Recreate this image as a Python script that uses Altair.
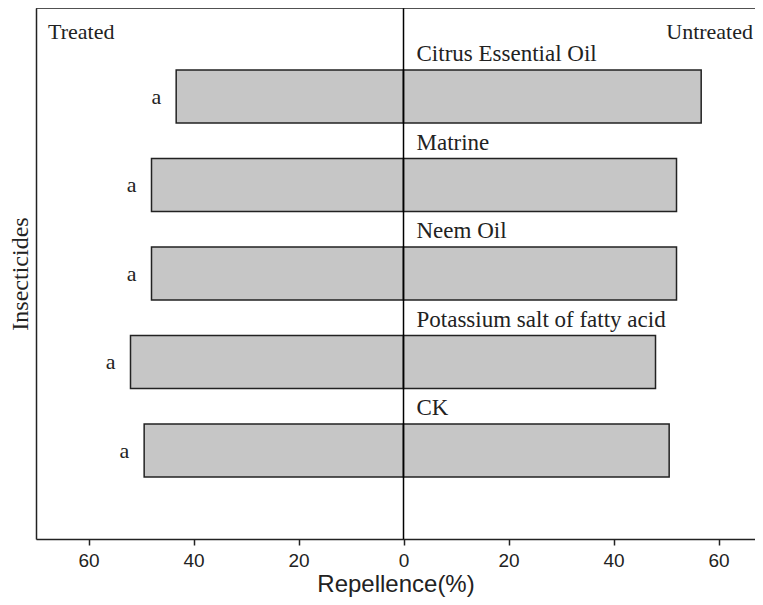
import altair as alt
import pandas as pd

categories = ["Citrus Essential Oil", "Matrine", "Neem Oil", "Potassium salt of fatty acid", "CK"]
positions = [5, 4, 3, 2, 1]
treated = [43.3, 48.0, 48.0, 52.0, 49.4]
untreated = [56.7, 52.0, 52.0, 48.0, 50.6]
letters = ["a", "a", "a", "a", "a"]
x_ticks = [-60, -40, -20, 0, 20, 40, 60]

XDOM = [-70, 66.95]
YDOM = [0, 6]
SERIF = "Liberation Serif"
SANS = "Liberation Sans"
INK = "#222222"

df = pd.DataFrame({
    "cat": categories,
    "pos": positions,
    "treated": treated,
    "untreated": untreated,
    "letter": letters,
})
df["neg"] = -df["treated"]
df["lo"] = df["pos"] - 0.3
df["hi"] = df["pos"] + 0.3
df["labpos"] = df["pos"] + 0.48
df["zero"] = 0.0

xs = alt.Scale(domain=XDOM, nice=False, zero=False)
ys = alt.Scale(domain=YDOM, nice=False, zero=False)

base = alt.Chart(df)

left_bars = base.mark_bar(color="#c6c6c6", stroke=INK, strokeWidth=1.5).encode(
    x=alt.X("neg:Q", scale=xs,
            axis=alt.Axis(values=x_ticks, labelExpr="format(abs(datum.value), 'd')",
                          title="Repellence(%)", grid=False, tickSize=6,
                          labelFont=SANS, labelFontSize=19, labelColor=INK, labelPadding=6,
                          titleFont=SANS, titleFontSize=24, titleFontWeight="normal",
                          titleColor=INK, titleBaseline="alphabetic", titleY=52,
                          domainColor=INK, domainWidth=1.5, tickColor=INK, tickWidth=1.5)),
    x2="zero:Q",
    y=alt.Y("lo:Q", scale=ys,
            axis=alt.Axis(title="Insecticides", ticks=False, labels=False, grid=False,
                          domainColor=INK, domainWidth=1.5,
                          titleFont=SERIF, titleFontSize=24, titleFontWeight="normal",
                          titleColor=INK, titlePadding=4)),
    y2="hi:Q",
)

right_bars = base.mark_bar(color="#c6c6c6", stroke=INK, strokeWidth=1.5).encode(
    x=alt.X("zero:Q", scale=xs),
    x2="untreated:Q",
    y=alt.Y("lo:Q", scale=ys),
    y2="hi:Q",
)

cat_text = base.mark_text(align="left", baseline="middle", dx=13, font=SERIF,
                          fontSize=23, color=INK).encode(
    x=alt.X("zero:Q", scale=xs),
    y=alt.Y("labpos:Q", scale=ys),
    text="cat:N",
)

letter_text = base.mark_text(align="right", baseline="middle", dx=-15, font=SERIF,
                             fontSize=22, color=INK).encode(
    x=alt.X("neg:Q", scale=xs),
    y=alt.Y("pos:Q", scale=ys),
    text="letter:N",
)

zero_df = pd.DataFrame({"x": [0.0], "y0": [YDOM[0]], "y1": [YDOM[1]]})
zero_line = alt.Chart(zero_df).mark_rule(color="black", strokeWidth=1.5).encode(
    x=alt.X("x:Q", scale=xs),
    y=alt.Y("y0:Q", scale=ys),
    y2="y1:Q",
)

top_df = pd.DataFrame({"x0": [XDOM[0]], "x1": [XDOM[1]], "y": [YDOM[1]]})
top_line = alt.Chart(top_df).mark_rule(color=INK, strokeWidth=1.5).encode(
    x=alt.X("x0:Q", scale=xs),
    x2="x1:Q",
    y=alt.Y("y:Q", scale=ys),
)

side_df = pd.DataFrame({"x": [XDOM[0], XDOM[1]], "y": [5.73, 5.73],
                        "t": ["Treated", "Untreated"]})
treated_text = alt.Chart(side_df.iloc[[0]]).mark_text(
    align="left", baseline="middle", dx=12, font=SERIF, fontSize=22, color=INK).encode(
    x=alt.X("x:Q", scale=xs), y=alt.Y("y:Q", scale=ys), text="t:N")
untreated_text = alt.Chart(side_df.iloc[[1]]).mark_text(
    align="right", baseline="middle", dx=-2, font=SERIF, fontSize=22, color=INK).encode(
    x=alt.X("x:Q", scale=xs), y=alt.Y("y:Q", scale=ys), text="t:N")

chart = alt.layer(
    left_bars, right_bars, zero_line, top_line, cat_text, letter_text,
    treated_text, untreated_text
).properties(
    width=719,
    height=531,
    autosize=alt.AutoSizeParams(type="none"),
    padding={"left": 28, "top": 0, "right": 0, "bottom": 58},
).configure_view(strokeWidth=0).configure(background="white")

chart.save("out.html", embed_options={"renderer": "svg", "actions": False})
